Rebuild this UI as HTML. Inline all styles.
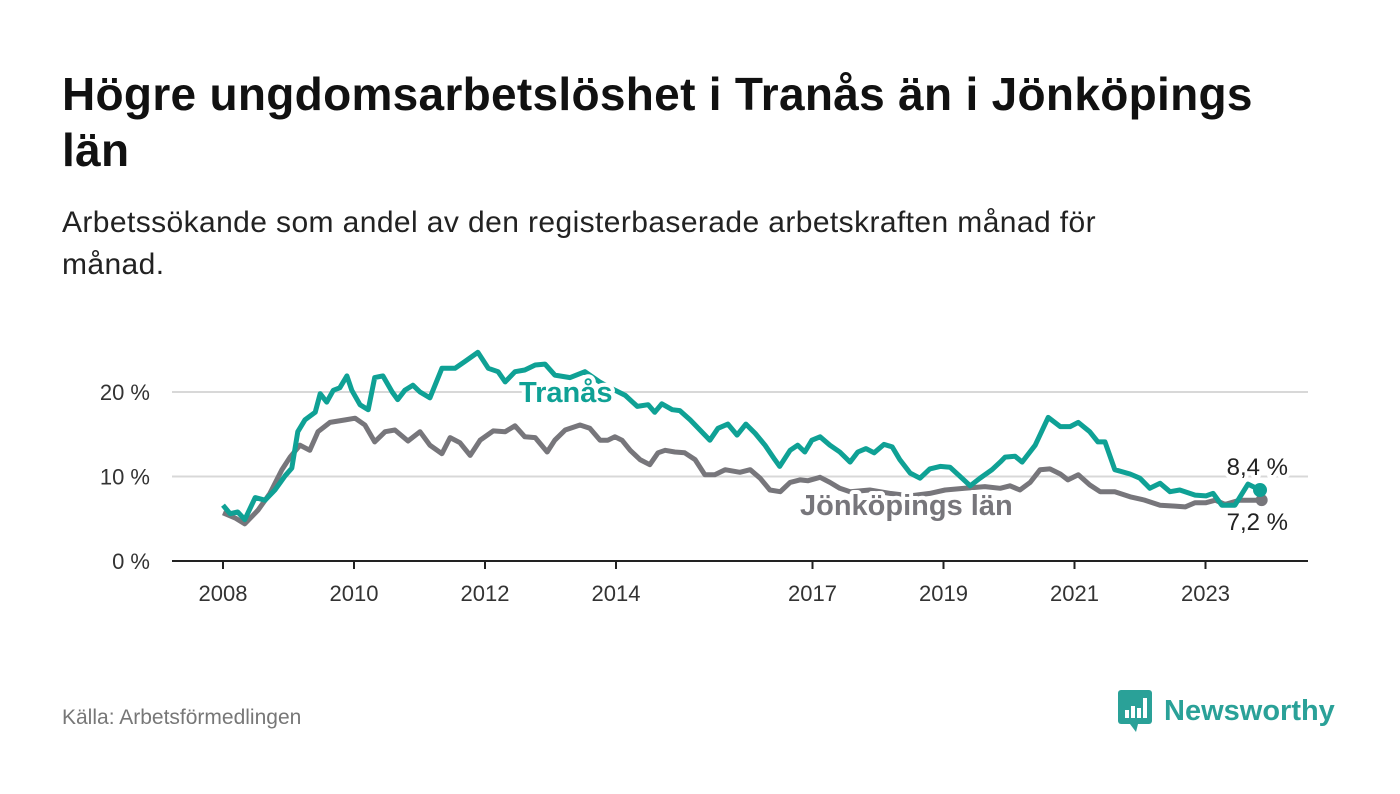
<!DOCTYPE html>
<html><head><meta charset="utf-8"><style>
body{margin:0;width:1400px;height:794px;background:#fff;font-family:"Liberation Sans","DejaVu Sans",sans-serif;overflow:hidden;position:relative}
h1{position:absolute;left:62px;top:66px;margin:0;font-size:46px;line-height:56px;font-weight:bold;color:#111;width:1330px;letter-spacing:0.3px;white-space:nowrap}
.sub{position:absolute;left:62px;top:202px;font-size:30px;line-height:42px;color:#222;width:1300px;letter-spacing:0.4px;white-space:nowrap}
.src{position:absolute;left:62px;top:706px;font-size:21px;color:#777}
.logo{position:absolute;left:1118px;top:690px;display:flex;align-items:center;color:#2aa198;font-weight:bold;font-size:29px}
</style></head><body>
<h1>Högre ungdomsarbetslöshet i Tranås än i Jönköpings<br>län</h1>
<div class="sub">Arbetssökande som andel av den registerbaserade arbetskraften månad för<br>månad.</div>
<svg id="chart" width="1400" height="794" style="position:absolute;left:0;top:0"></svg>
<div class="src">Källa: Arbetsförmedlingen</div>
<div class="logo"><svg width="36" height="42" viewBox="0 0 36 42"><rect x="0" y="0" width="34" height="34" rx="3" fill="#2aa198"/><path d="M12 34 L18 42 L20 34Z" fill="#2aa198"/><rect x="7" y="20" width="4" height="8" fill="#fff"/><rect x="13" y="16" width="4" height="12" fill="#fff"/><rect x="19" y="18" width="4" height="10" fill="#fff"/><rect x="25" y="8" width="4" height="20" fill="#fff"/></svg><span style="margin-left:10px">Newsworthy</span></div>
<script>
const months=[0,1.3,2.7,4,5.9,7.7,9.5,11.4,12.6,13.7,15,16.9,17.8,19,20.2,21.4,22.7,23.6,25.1,26.6,27.8,29.3,31,32,33.3,34.8,36.1,37.9,40.1,42.5,44.3,46.7,48.6,50.4,51.7,53.5,55.3,57.2,59,60.8,63.6,66.3,69,70.9,73.7,75.9,77.9,79.1,80.4,82.3,83.7,85.6,87.4,89.2,90.7,92.5,94.2,95.8,97.5,99.3,101.1,102,103.9,105.3,106.6,107.9,109.4,111.2,113,114.9,116.3,117.8,119.3,121.1,122.6,124,125.9,127.7,129.5,131.4,133.2,135.4,136.9,138.7,140.9,142.4,143.3,145.1,146.4,148.8,151.2,153.4,155.2,156.7,158.8,160.3,161.6,163.4,166.2,168,169.8,171.7,173.5,175.3,178.1,180.1,181.4,183,185.4,187.8,190];
const tranas=[6.6,5.6,5.8,4.9,7.5,7.2,8.4,10.1,11.0,15.3,16.7,17.6,19.8,18.8,20.2,20.5,21.9,20.2,18.5,17.9,21.7,21.9,20.0,19.1,20.2,20.8,20.0,19.3,22.8,22.8,23.6,24.7,22.8,22.4,21.2,22.4,22.6,23.2,23.3,22.0,21.7,22.4,21.2,20.5,19.6,18.3,18.5,17.6,18.6,17.9,17.8,16.7,15.5,14.3,15.7,16.2,14.9,16.2,15.1,13.7,12.0,11.2,13.1,13.7,12.9,14.3,14.7,13.7,12.9,11.7,12.9,13.3,12.8,13.8,13.5,12.0,10.4,9.8,10.9,11.2,11.1,9.8,8.9,9.8,10.8,11.7,12.3,12.4,11.7,13.7,17.0,15.9,15.9,16.4,15.3,14.1,14.1,10.8,10.3,9.8,8.6,9.2,8.2,8.4,7.8,7.7,8.0,6.6,6.6,9.1,8.4];
const monthsJ=[0,2.2,4,6.4,8.6,10.8,12.3,14.1,15.9,17.4,19.6,22.4,24.2,26,27.8,29.7,31.5,33.9,36.1,37.9,40.1,41.6,43.4,45.3,47.1,49.5,51.7,53.5,55.3,57.2,59.4,60.8,62.7,65.4,67.2,69.1,70.5,71.8,73.1,74.6,76.4,78.2,79.7,81,82.8,84.6,86.5,88.3,90.1,92,94.7,96.6,98.4,100.2,102.1,103.9,105.7,107.2,109.4,111.2,113,114.9,118.5,122.2,125.9,129.5,132.3,135.9,139.6,142.4,144.2,146,147.9,149.7,151.5,153.4,154.8,156.7,158.8,160.7,163.4,166.2,168.9,171.7,174.4,176.3,178.1,180.1,181.8,183.6,186.3,188.1,190.3];
const jonkoping=[5.7,5.1,4.4,6.0,8.0,10.8,12.3,13.7,13.1,15.3,16.4,16.7,16.9,16.1,14.1,15.3,15.5,14.2,15.3,13.7,12.7,14.6,14.0,12.5,14.3,15.4,15.3,16.0,14.7,14.6,12.9,14.3,15.5,16.1,15.7,14.3,14.3,14.7,14.3,13.1,12.0,11.4,12.8,13.1,12.9,12.8,12.0,10.2,10.2,10.8,10.5,10.8,9.8,8.4,8.2,9.3,9.6,9.5,9.9,9.3,8.6,8.2,8.4,8.0,7.7,8.0,8.4,8.6,8.8,8.6,8.9,8.4,9.3,10.8,10.9,10.3,9.6,10.2,9.0,8.2,8.2,7.6,7.2,6.6,6.5,6.4,6.9,6.9,7.2,6.7,7.2,7.2,7.2];
const yTicks=[0,10,20];
const yTickLabels=["0 %","10 %","20 %"];
const xTicks=[2008,2010,2012,2014,2017,2019,2021,2023];
const NS="http://www.w3.org/2000/svg";
const svg=document.getElementById('chart');
const X=m=>223+m*5.458;
const XY=y=>223+(y-2008)*65.5;
const Y=v=>561-v*8.45;
function el(t,a){const e=document.createElementNS(NS,t);for(const k in a)e.setAttribute(k,a[k]);svg.appendChild(e);return e;}
yTicks.forEach((t,i)=>{
  if(t>0){const g=el('line',{x1:172,x2:1308,y1:Y(t),y2:Y(t),stroke:'#d8d8d8','stroke-width':2});
  
  }
  const tx=el('text',{x:150,y:Y(t)+8,'text-anchor':'end','font-size':22,fill:'#333'});
  tx.textContent=yTickLabels[i];
  
  
});
const ax=el('line',{x1:172,x2:1308,y1:Y(0),y2:Y(0),stroke:'#222','stroke-width':2});


xTicks.forEach(t=>{
  const tk=el('line',{x1:XY(t),x2:XY(t),y1:561,y2:569,stroke:'#222','stroke-width':2});
  
  
  const tx=el('text',{x:XY(t),y:601,'text-anchor':'middle','font-size':22,fill:'#333'});
  tx.textContent=t;
  
  
});
function path(ms,vs){return ms.map((m,i)=>(i?'L':'M')+X(m).toFixed(1)+','+Y(vs[i]).toFixed(1)).join('');}
const lj=el('path',{d:path(monthsJ,jonkoping),fill:'none',stroke:'#77767b','stroke-width':5,'stroke-linejoin':'round'});


const lt=el('path',{d:path(months,tranas),fill:'none',stroke:'#0fa195','stroke-width':5,'stroke-linejoin':'round'});


const dj=el('circle',{cx:X(monthsJ[monthsJ.length-1]),cy:Y(jonkoping[jonkoping.length-1]),r:6,fill:'#77767b'});


const dt=el('circle',{cx:X(months[months.length-1]),cy:Y(tranas[tranas.length-1]),r:7,fill:'#0fa195'});


function label(txt,x,y,col,name,bold,anchor){
  const t=el('text',{x:x,y:y,'font-size':bold?29:24,'font-weight':bold?'bold':'normal',fill:col,stroke:'#fff','stroke-width':8,'paint-order':'stroke','stroke-linejoin':'round','text-anchor':anchor||'start'});
  t.textContent=txt;
  
  
}
label('Tranås',519,402,'#0fa195','tranas-series-label',true);
label('Jönköpings län',800,515,'#77767b','jonkoping-series-label',true);
label('8,4 %',1288,475,'#222','tranas-end-value',false,'end');
label('7,2 %',1288,530,'#222','jonkoping-end-value',false,'end');
</script>
</body></html>
